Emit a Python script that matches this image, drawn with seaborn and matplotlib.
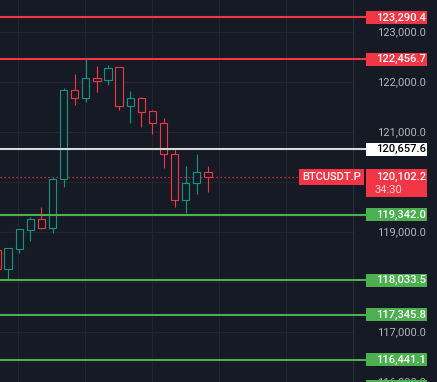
import numpy as np
import pandas as pd
import matplotlib
matplotlib.use("Agg")
import matplotlib.pyplot as plt
import matplotlib.transforms as mtransforms
from matplotlib.patches import Rectangle
import seaborn as sns

# hourly candles
opens  = [118640, 118260, 118660, 119040, 119260, 119080, 120060, 121840, 121680, 122080,
          122040, 122300, 121520, 121680, 121420, 121180, 120560, 119640, 119980, 120200]
highs  = [118700, 118680, 119060, 119300, 119500, 120100, 121880, 122160, 122460, 122320,
          122340, 122300, 121820, 121700, 121440, 121280, 120660, 120320, 120560, 120320]
lows   = [118200, 118060, 118580, 118820, 119060, 118980, 119900, 121540, 121600, 121800,
          121940, 121440, 121180, 121100, 120960, 120280, 119500, 119380, 119760, 119800]
closes = [118260, 118680, 119060, 119260, 119080, 120060, 121840, 121680, 122080, 122020,
          122280, 121520, 121680, 121400, 121180, 120560, 119640, 119980, 120200, 120102.2]

resistance = [123290.4, 122456.7]
pivot = 120657.6
support = [119342.0, 118033.5, 117345.8, 116441.1]
offscreen_support = 115910.0   # only the top of its box peeks in
last_price = 120102.2
countdown = "34:30"
symbol = "BTCUSDT.P"
price_ticks = [123000, 122000, 121000, 119000, 117000, 116000]
time_grid = [1.9, 7.93, 13.96, 20.0, 26.03]

df = pd.DataFrame({'open': opens, 'high': highs, 'low': lows, 'close': closes})
df['idx'] = np.arange(len(df))

bg = '#161a25'
grid_c = '#232632'
up_c = '#089981'
down_c = '#f23645'
green_c = '#4caf50'
tick_c = '#b2b5be'

sns.set_theme(style="dark", rc={'axes.facecolor': bg, 'figure.facecolor': bg})
plt.rcParams['font.family'] = ['Roboto', 'DejaVu Sans']

fig = plt.figure(figsize=(4.37, 3.82), dpi=100)
ax = fig.add_axes([0, 0, 1, 1])
ax.set_facecolor(bg)
ax.set_xlim(0.27, 39.64)
ax.set_ylim(116000, 123640)
ax.set_axis_off()

W = 437.0
plot_right = 353 / W
line_right = 366 / W
tr = mtransforms.blended_transform_factory(ax.transAxes, ax.transData)
px = 20.0  # price units per pixel

# grid
for g in time_grid:
    ax.axvline(g, color=grid_c, lw=0.8, zorder=0)
for p in range(116000, 124000, 1000):
    ax.axhline(p, xmin=0, xmax=plot_right, color=grid_c, lw=0.8, zorder=0)
ax.axvline(32.07, color='#2a2e39', lw=0.8, zorder=0)

# candles (hollow)
for _, r in df.iterrows():
    col = up_c if r['close'] >= r['open'] else down_c
    ax.vlines(r['idx'], r['low'], r['high'], color=col, lw=0.8, zorder=2)
    lo = min(r['open'], r['close'])
    h = max(abs(r['close'] - r['open']), 20)
    ax.bar(r['idx'], h, bottom=lo, width=0.66, facecolor=bg, edgecolor=col,
           linewidth=0.8, zorder=3)

# levels
def level_box(y, text, face, tcol):
    ax.add_patch(Rectangle((366 / W, y - 6.5 * px), 61 / W, 13 * px, transform=tr,
                           facecolor=face, edgecolor='none', zorder=6, clip_on=False))
    if text:
        ax.text(426 / W, y, text, transform=tr, ha='right', va='center', color=tcol,
                fontsize=8, fontweight='medium', zorder=7)

for p in price_ticks:
    ax.text(426 / W, p, f"{p:,.1f}", transform=tr, ha='right', va='center',
            color=tick_c, fontsize=8, zorder=5)

for lv in resistance:
    ax.axhline(lv, xmin=0, xmax=line_right, color=down_c, lw=1.5, zorder=4)
    level_box(lv, f"{lv:,.1f}", down_c, 'white')
for lv in support:
    ax.axhline(lv, xmin=0, xmax=line_right, color=green_c, lw=1.5, zorder=4)
    level_box(lv, f"{lv:,.1f}", green_c, 'white')
level_box(offscreen_support, None, green_c, 'white')
ax.axhline(pivot, xmin=0, xmax=line_right, color='#d9d9d9', lw=1.5, zorder=4)
level_box(pivot, f"{pivot:,.1f}", 'white', 'black')

# last price
ax.axhline(last_price, xmin=0, xmax=299 / W, color=down_c, lw=0.8,
           linestyle=(0, (1.2, 2.4)), zorder=1)
ax.add_patch(Rectangle((299 / W, last_price - 8 * px), 65 / W, 16 * px, transform=tr,
                       facecolor=down_c, edgecolor='none', zorder=6))
ax.text(331.5 / W, last_price, symbol, transform=tr, ha='center', va='center',
        color='white', fontsize=8, fontweight='medium', zorder=7)
ax.add_patch(Rectangle((366 / W, last_price - 20 * px), 61 / W, 28 * px, transform=tr,
                       facecolor=down_c, edgecolor='none', zorder=6))
ax.text(426 / W, last_price, f"{last_price:,.1f}", transform=tr, ha='right', va='center',
        color='white', fontsize=8, fontweight='medium', zorder=7)
ax.text(374.5 / W, last_price - 13 * px, countdown, transform=tr, ha='left', va='center',
        color='#ffd3d7', fontsize=8, zorder=7)

fig.savefig('out.png', dpi=100, facecolor=bg)
